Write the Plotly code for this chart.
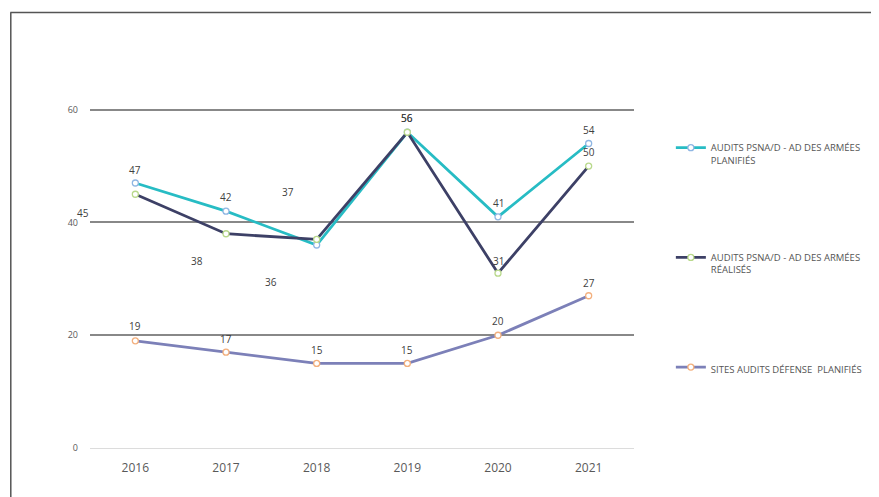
import plotly.graph_objects as go

years = ["2016", "2017", "2018", "2019", "2020", "2021"]
planifies = [47, 42, 36, 56, 41, 54]
realises = [45, 38, 37, 56, 31, 50]
sites = [19, 17, 15, 15, 20, 27]

names = [
    "AUDITS PSNA/D - AD DES ARMÉES<br>PLANIFIÉS",
    "AUDITS PSNA/D - AD DES ARMÉES<br>RÉALISÉS",
    "SITES AUDITS DÉFENSE  PLANIFIÉS",
]
y_ticks = [0, 20, 40, 60]

# label offsets in pixels (xshift, yshift), per point
off_plan = [(0, 13), (0, 14), (-46, -37), (0, 14), (0, 14), (0, 14)]
off_real = [(-52, -19), (-29, -27), (-29, 47), (0, 14), (0, 12), (0, 14)]
off_sites = [(0, 15), (0, 13), (0, 13), (0, 13), (0, 14), (0, 13)]

fig = go.Figure()
series = [
    (planifies, names[0], "#27bcc4", "#8fb6e3", off_plan),
    (realises, names[1], "#3d4066", "#b9d98c", off_real),
    (sites, names[2], "#7c80b8", "#f3b07e", off_sites),
]
annotations = []
for i, (vals, name, lc, mc, offs) in enumerate(series):
    fig.add_trace(go.Scatter(
        x=years, y=vals, name=name, mode="lines+markers",
        legendgroup=f"g{i}",
        line=dict(color=lc, width=2.8),
        marker=dict(symbol="circle", size=6, color="white",
                    line=dict(color=mc, width=1.3)),
        hoverinfo="x+y",
    ))
    for k, (v, (dx, dy)) in enumerate(zip(vals, offs)):
        annotations.append(dict(
            x=k, y=v, xref="x", yref="y", text=str(v), showarrow=False,
            xshift=dx, yshift=dy,
            font=dict(family="Open Sans", size=10, color="#404040"),
        ))

# page has an 8px body margin: figure origin sits at page (8, 8)
OFF = 8
W, H = 879 - OFF, 497 - OFF
L, R, T, B = 82, 243, 100, 49
pw, ph = W - L - R, H - T - B

def px(xpage):
    return (xpage - OFF - L) / pw

def py(ypage):
    return (H - B - (ypage - OFF)) / ph

shapes = [
    dict(type="line", xref="paper", yref="paper",
         x0=px(10), x1=px(879), y0=py(12.5), y1=py(12.5),
         line=dict(color="#555555", width=1.5)),
    dict(type="line", xref="paper", yref="paper",
         x0=px(10.5), x1=px(10.5), y0=py(12.5), y1=py(497),
         line=dict(color="#555555", width=1.5)),
]

fig.update_layout(
    width=W, height=H,
    margin=dict(l=L, r=R, t=T, b=B),
    paper_bgcolor="white", plot_bgcolor="white",
    showlegend=True,
    legend=dict(
        x=px(673), y=py(135), xanchor="left", yanchor="top",
        font=dict(family="Open Sans", size=9.5, color="#555555"),
        tracegroupgap=82, valign="top", itemwidth=30,
        bgcolor="rgba(0,0,0,0)",
    ),
    xaxis=dict(
        type="category", range=[-0.5, 5.5],
        showgrid=False, showline=False, ticks="",
        tickfont=dict(family="Open Sans", size=12, color="#595959"),
        ticklabelstandoff=11,
    ),
    yaxis=dict(
        range=[0, 60.3], tickvals=y_ticks,
        showgrid=True, gridcolor="#888888", gridwidth=1.5,
        zeroline=True, zerolinecolor="#dcdcdc", zerolinewidth=1,
        showline=False, ticks="",
        tickfont=dict(family="Open Sans", size=9, color="#595959"),
        ticklabelstandoff=11,
    ),
    annotations=annotations,
    shapes=shapes,
)

fig.write_html("out.html")
